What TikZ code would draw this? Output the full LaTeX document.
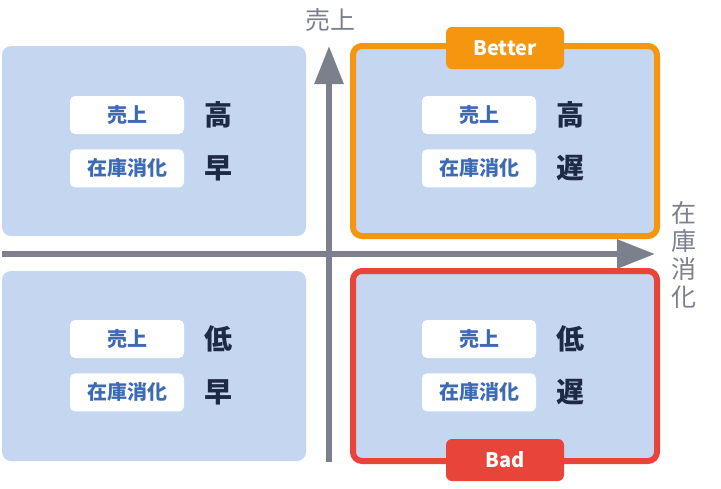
\documentclass[tikz,border=0pt]{standalone}
\usepackage{fontspec}
\setmainfont{Noto Sans CJK JP}
\usetikzlibrary{arrows.meta,positioning,calc}
\definecolor{quadfill}{HTML}{C5D6F1}
\definecolor{lbltext}{HTML}{3D6BB3}
\definecolor{valtext}{HTML}{1E2A45}
\definecolor{axisgrey}{HTML}{7B808C}
\definecolor{better}{HTML}{F5960F}
\definecolor{bad}{HTML}{E8443A}

\begin{document}
\begin{tikzpicture}[x=1pt, y=-1pt,
      quad/.style={rectangle, fill=quadfill, rounded corners=9pt, minimum width=304pt,
                   minimum height=190pt, inner sep=0pt},
      frame/.style={quad, draw=#1, line width=6pt},
      tag/.style={rectangle, fill=#1, rounded corners=6pt, minimum width=118pt,
                  minimum height=42pt, inner sep=0pt, text=white,
                  font=\fontsize{20pt}{22pt}\selectfont\bfseries},
      lbl/.style={rectangle, fill=white, rounded corners=5pt, minimum width=114pt,
                  minimum height=38pt, inner sep=0pt, text=lbltext,
                  font=\fontsize{20pt}{22pt}\selectfont\bfseries},
      val/.style={inner sep=0pt, text=valtext, font=\fontsize{28pt}{30pt}\selectfont\bfseries},
      axis/.style={axisgrey, line width=6pt, -{Triangle[length=38pt, width=28pt]}},
      axlabel/.style={text=axisgrey, align=center, inner sep=0pt,
                      font=\fontsize{25pt}{28pt}\selectfont}]
    \useasboundingbox (0,0) rectangle (721,488);

    % quadrants
    \node[quad] (tl) at (154,141) {};
    \node[quad] (bl) at (154,366) {};
    \node[frame=better] (tr) at (505,141) {};
    \node[frame=bad] (br) at (505,366) {};

    % axes
    \coordinate (ybot) at (329,462);
    \coordinate (ytop) at (329,46);
    \coordinate (xleft) at (2,254);
    \coordinate (xright) at (655,254);
    \draw[axis] (ybot) -- (ytop);
    \draw[axis] (xleft) -- (xright);
    \node[axlabel] (ylab) at (330,20) {売上};
    \node[axlabel] (xlab) at (684,255) {在\\庫\\消\\化};

    % tags
    \node[tag=better] (tbetter) at (505,48) {Better};
    \node[tag=bad] (tbad) at (505,460) {Bad};

    % top left
    \node[lbl] (tl-sales) at ([xshift=-27pt, yshift=26pt]tl.center) {売上};
    \node[lbl, below=15pt of tl-sales] (tl-stock) {在庫消化};
    \node[val, right=20pt of tl-sales] (tl-sv) {高};
    \node[val, right=20pt of tl-stock] (tl-tv) {早};

    % top right
    \node[lbl] (tr-sales) at ([xshift=-26pt, yshift=26pt]tr.center) {売上};
    \node[lbl, below=15pt of tr-sales] (tr-stock) {在庫消化};
    \node[val, right=20pt of tr-sales] (tr-sv) {高};
    \node[val, right=20pt of tr-stock] (tr-tv) {遅};

    % bottom left
    \node[lbl] (bl-sales) at ([xshift=-27pt, yshift=27pt]bl.center) {売上};
    \node[lbl, below=15pt of bl-sales] (bl-stock) {在庫消化};
    \node[val, right=20pt of bl-sales] (bl-sv) {低};
    \node[val, right=20pt of bl-stock] (bl-tv) {早};

    % bottom right
    \node[lbl] (br-sales) at ([xshift=-26pt, yshift=27pt]br.center) {売上};
    \node[lbl, below=15pt of br-sales] (br-stock) {在庫消化};
    \node[val, right=20pt of br-sales] (br-sv) {低};
    \node[val, right=20pt of br-stock] (br-tv) {遅};
  \end{tikzpicture}
\end{document}
